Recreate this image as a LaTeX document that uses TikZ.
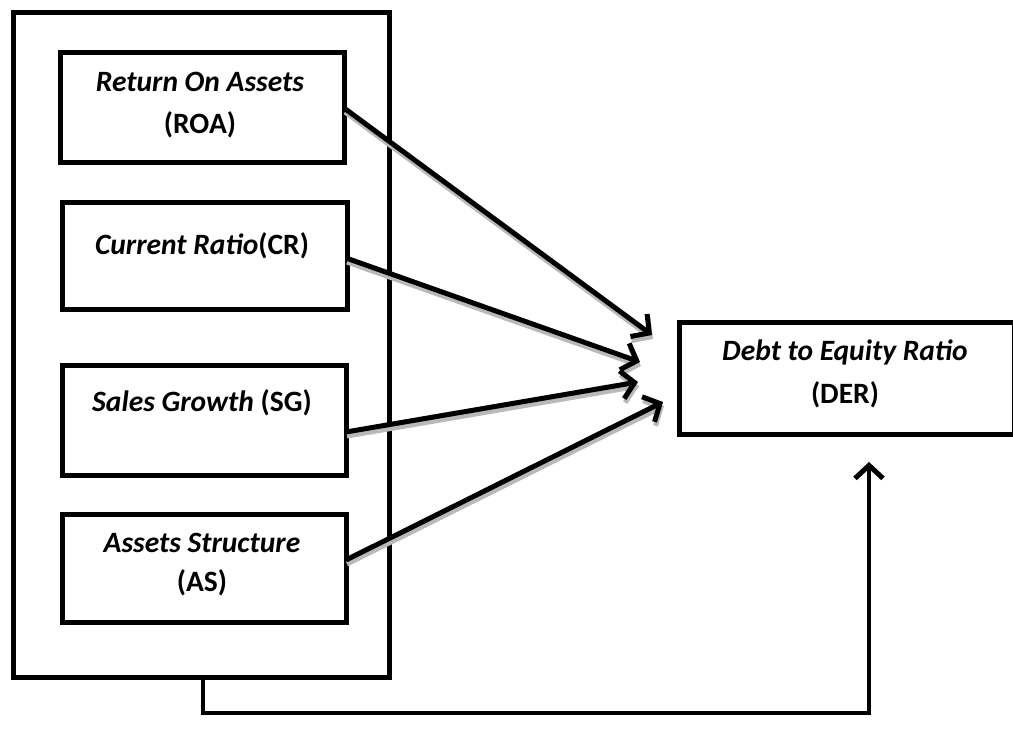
\documentclass[tikz,border=0pt]{standalone}
\usepackage{fontspec}
\setmainfont{Carlito}
\usetikzlibrary{arrows.meta}
\begin{document}
\begin{tikzpicture}[x=1pt,y=-1pt,
  box/.style={draw=black,line width=5pt,fill=white},
  lbl/.style={font=\fontsize{29.5}{35}\selectfont\bfseries,align=center},
  conn/.style={line width=5pt,-{Straight Barb[length=13pt,width=28pt,line width=5pt]}},
  shadowconn/.style={line width=5pt,draw=gray!55,-{Straight Barb[length=13pt,width=28pt,line width=5pt]}}]
\useasboundingbox (0,0) rectangle (1013,743);
% outer group
\draw[box] (13,13) rectangle (389,677);
\coordinate (outer) at (203,677);
% inner boxes
\node[box,minimum width=284pt,minimum height=110pt,anchor=north west] (roa) at (58,50) {};
\node[box,minimum width=285pt,minimum height=107pt,anchor=north west] (cr) at (60,200) {};
\node[box,minimum width=284pt,minimum height=110pt,anchor=north west] (sg) at (60,363) {};
\node[box,minimum width=284pt,minimum height=108pt,anchor=north west] (as) at (60,512) {};
\node[box,minimum width=335pt,minimum height=112pt,anchor=north west] (der) at (677,320) {};
% texts
\node[lbl] (troa) at (200,82) {\textit{Return On Assets}};
\node[lbl] (troa2) at (200,125) {(ROA)};
\node[lbl] (tcr) at (202,246) {\textit{Current Ratio}(CR)};
\node[lbl] (tsg) at (202,403) {\textit{Sales Growth} (SG)};
\node[lbl] (tas) at (202,543) {\textit{Assets Structure}};
\node[lbl] (tas2) at (202,583) {(AS)};
\node[lbl] (tder) at (845,352) {\textit{Debt to Equity Ratio}};
\node[lbl] (tder2) at (845,395) {(DER)};
% arrow end points
\coordinate (e1) at (652,335);
\coordinate (e2) at (640,362);
\coordinate (e3) at (638,382);
\coordinate (e4) at (663,402);
\coordinate (s1) at (344,108);
\coordinate (s2) at (346,258);
\coordinate (s3) at (346,432);
\coordinate (s4) at (346,560);
% shadows
\foreach \i in {1,2,3,4}{
  \draw[shadowconn] ([shift={(1,4)}]s\i) -- ([shift={(1,4)}]e\i);
}
\foreach \i in {1,2,3,4}{
  \draw[conn] (s\i) -- (e\i);
}
% bottom connector
\coordinate (b1) at (203,713);
\coordinate (b2) at (869,713);
\coordinate (tip) at (869,462);
\draw[line width=4.5pt,-{Straight Barb[length=13pt,width=28pt,line width=5pt]}] (outer) -- (b1) -- (b2) -- (tip);
\end{tikzpicture}
\end{document}
